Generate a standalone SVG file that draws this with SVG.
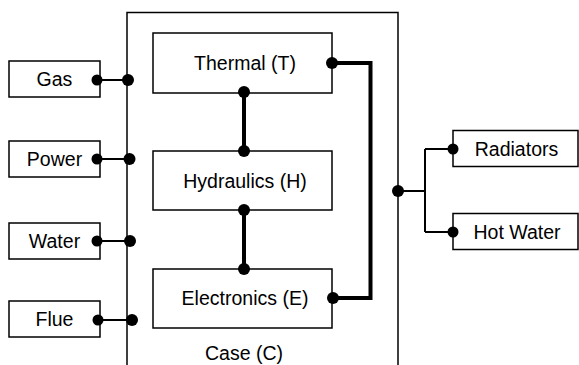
<svg xmlns="http://www.w3.org/2000/svg" width="579" height="365" viewBox="0 0 579 365">
<style>
.box{fill:#fff;stroke:#000;stroke-width:1.5}
.case{fill:none;stroke:#000;stroke-width:1.5}
.lbl{font-family:"Liberation Sans",Arial,sans-serif;font-size:19.5px;fill:#000;text-anchor:middle}
.thin{fill:none;stroke:#000;stroke-width:2}
.thick{fill:none;stroke:#000;stroke-width:4}
.dot{fill:#000}
</style>
<rect width="579" height="365" fill="#fff"/>
<g id="case">
<path class="case" d="M127,370 V12.5 H398 V370"/>
<text class="lbl" x="244" y="359.5">Case (C)</text>
</g>
<g id="gas"><rect class="box" x="9" y="61" width="91" height="36"/><text class="lbl" x="54.5" y="86">Gas</text></g>
<g id="power"><rect class="box" x="9" y="141" width="91" height="36"/><text class="lbl" x="54.5" y="166">Power</text></g>
<g id="water"><rect class="box" x="9" y="223" width="91" height="36"/><text class="lbl" x="54.5" y="248">Water</text></g>
<g id="flue"><rect class="box" x="9" y="301" width="91" height="36"/><text class="lbl" x="54.5" y="326">Flue</text></g>
<g id="thermal"><rect class="box" x="153" y="33" width="179" height="60"/><text class="lbl" x="245" y="70">Thermal (T)</text></g>
<g id="hydraulics"><rect class="box" x="153" y="151" width="179" height="59"/><text class="lbl" x="245" y="187.5">Hydraulics (H)</text></g>
<g id="electronics"><rect class="box" x="153" y="269" width="179" height="59"/><text class="lbl" x="245" y="305">Electronics (E)</text></g>
<g id="radiators"><rect class="box" x="453" y="130.5" width="125" height="36"/><text class="lbl" x="516.5" y="155.5">Radiators</text></g>
<g id="hotwater"><rect class="box" x="453" y="213.5" width="125" height="36"/><text class="lbl" x="517" y="238.5">Hot Water</text></g>
<g id="connectors">
<path class="thin" d="M100,80 H128 M100,159 H129.5 M100,241 H130 M100,320 H132"/>
<path class="thin" d="M398,191 H425 M425,149 V232 M425,149 H453 M425,232 H453"/>
<path class="thick" d="M332,63 H370.5 V298 H333"/>
<path class="thick" d="M244,92 V151 M244,210 V269"/>
<circle class="dot" cx="97" cy="80" r="5.5"/><circle class="dot" cx="128" cy="80" r="6"/>
<circle class="dot" cx="97" cy="159" r="5.5"/><circle class="dot" cx="129.5" cy="159" r="6"/>
<circle class="dot" cx="97" cy="241" r="5.5"/><circle class="dot" cx="130" cy="241" r="6"/>
<circle class="dot" cx="98" cy="320" r="5.5"/><circle class="dot" cx="132" cy="320" r="6"/>
<circle class="dot" cx="332" cy="63" r="6"/><circle class="dot" cx="333" cy="298" r="6"/>
<circle class="dot" cx="244" cy="92" r="6"/><circle class="dot" cx="244" cy="151" r="6"/>
<circle class="dot" cx="244" cy="210" r="6"/><circle class="dot" cx="244" cy="269" r="6"/>
<circle class="dot" cx="398" cy="191" r="6"/>
<circle class="dot" cx="453" cy="149" r="5.5"/><circle class="dot" cx="453" cy="232" r="5.5"/>
</g>
</svg>
